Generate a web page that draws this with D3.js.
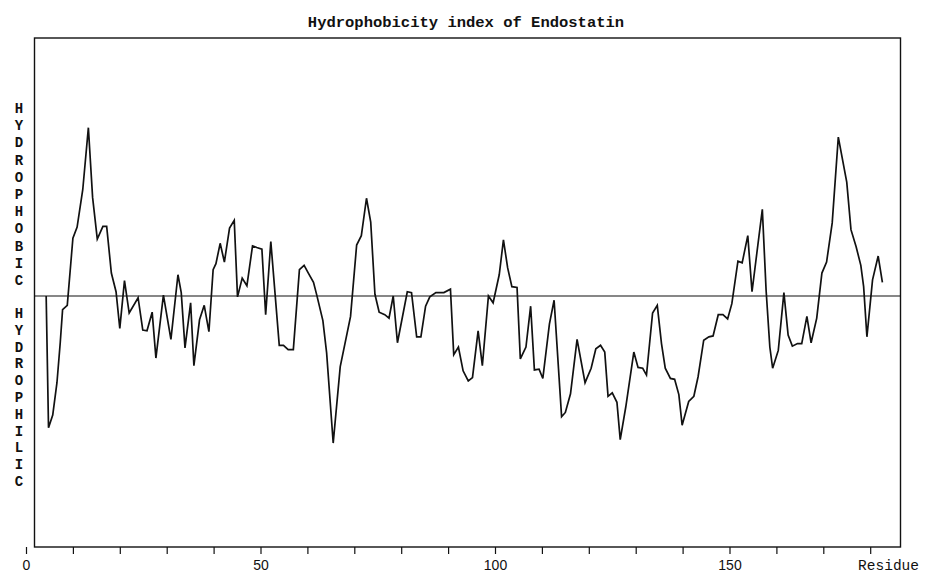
<!DOCTYPE html>
<html>
<head>
<meta charset="utf-8">
<script src="https://cdn.jsdelivr.net/npm/d3@7/dist/d3.min.js"></script>
<style>
  html, body { margin: 0; padding: 0; background: #fff; }
  svg { display: block; }
</style>
</head>
<body>
<div id="chart"></div>
<script>
// ---- data ----
const titleText = "Hydrophobicity index of Endostatin";
const upperLabel = "HYDROPHOBIC";
const lowerLabel = "HYDROPHILIC";
const xAxisLabel = "Residue";
const tickValues = [0,10,20,30,40,50,60,70,80,90,100,110,120,130,140,150,160,170,180];
const tickLabels = [0, 50, 100, 150];

// residue position of each vertex of the profile
const residues = [
  4.3, 4.8, 5.7, 6.6, 7.3, 7.8, 8.8, 10.0, 10.9, 12.1,
  13.3, 14.2, 15.2, 16.4, 17.2, 18.2, 19.2, 20.0, 21.0, 22.0,
  23.9, 24.9, 25.8, 26.9, 27.7, 29.3, 30.9, 32.4, 33.1, 33.9,
  35.1, 35.8, 37.0, 38.0, 39.0, 39.9, 40.5, 41.4, 42.3, 43.4,
  44.4, 45.1, 46.1, 47.1, 48.3, 49.2, 50.3, 51.1, 52.2, 54.0,
  54.9, 55.9, 57.0, 58.3, 59.3, 60.2, 61.3, 62.0, 63.3, 64.1,
  65.5, 67.0, 69.2, 70.5, 71.5, 72.6, 73.5, 74.4, 75.3, 76.5,
  77.4, 78.3, 79.2, 81.3, 82.2, 83.3, 84.2, 85.2, 86.1, 87.4,
  89.1, 90.5, 91.2, 92.2, 93.2, 94.3, 95.2, 96.4, 97.3, 98.6,
  99.6, 100.9, 101.8, 102.7, 103.6, 104.7, 105.4, 106.6, 107.6, 108.4,
  109.4, 110.2, 111.6, 112.6, 114.2, 115.0, 116.1, 117.5, 119.2, 120.5,
  121.5, 122.5, 123.4, 124.1, 125.0, 126.0, 126.7, 127.9, 129.6, 130.5,
  131.5, 132.3, 133.6, 134.6, 135.5, 136.3, 137.4, 138.3, 139.2, 139.9,
  141.3, 142.4, 143.3, 144.5, 145.6, 146.5, 147.6, 148.6, 149.6, 150.5,
  151.8, 152.7, 153.9, 154.8, 157.0, 157.8, 158.6, 159.2, 160.4, 161.6,
  162.5, 163.4, 164.5, 165.4, 166.5, 167.4, 168.6, 169.7, 170.7, 171.9,
  173.2, 175.0, 175.9, 177.0, 178.0, 178.6, 179.3, 180.5, 181.7, 182.6
];

// hydrophobicity value at each vertex
const hydrophobicity = [
  0.00, -1.55, -1.40, -1.02, -0.55, -0.16, -0.11, 0.68, 0.81, 1.25,
  1.98, 1.16, 0.67, 0.82, 0.82, 0.27, 0.05, -0.38, 0.18, -0.20,
  -0.02, -0.40, -0.41, -0.19, -0.73, 0.01, -0.51, 0.25, 0.04, -0.61,
  -0.08, -0.82, -0.28, -0.11, -0.42, 0.31, 0.38, 0.62, 0.40, 0.80,
  0.89, -0.01, 0.21, 0.12, 0.59, 0.57, 0.55, -0.22, 0.64, -0.58,
  -0.58, -0.63, -0.63, 0.31, 0.36, 0.27, 0.16, 0.01, -0.29, -0.67,
  -1.73, -0.83, -0.24, 0.60, 0.71, 1.15, 0.87, 0.02, -0.19, -0.22,
  -0.26, 0.00, -0.55, 0.05, 0.04, -0.48, -0.48, -0.12, -0.01, 0.04,
  0.04, 0.08, -0.69, -0.60, -0.88, -1.00, -0.96, -0.41, -0.82, 0.00,
  -0.08, 0.25, 0.66, 0.33, 0.11, 0.10, -0.74, -0.60, -0.12, -0.87,
  -0.86, -0.97, -0.33, -0.05, -1.42, -1.37, -1.15, -0.51, -1.02, -0.85,
  -0.62, -0.58, -0.66, -1.18, -1.14, -1.25, -1.69, -1.30, -0.66, -0.84,
  -0.85, -0.93, -0.20, -0.11, -0.56, -0.85, -0.97, -0.98, -1.16, -1.52,
  -1.24, -1.18, -0.95, -0.52, -0.48, -0.47, -0.22, -0.22, -0.27, -0.09,
  0.41, 0.39, 0.71, 0.05, 1.02, 0.07, -0.60, -0.85, -0.64, 0.04,
  -0.46, -0.59, -0.56, -0.56, -0.24, -0.55, -0.26, 0.27, 0.40, 0.86,
  1.87, 1.34, 0.78, 0.58, 0.36, 0.11, -0.48, 0.19, 0.47, 0.16
];

// ---- layout ----
const W = 927, H = 574;
const frame = { left: 34.5, right: 900.5, top: 38, bottom: 547 };

const svg = d3.select("#chart").append("svg")
  .attr("width", W).attr("height", H);

const x = d3.scaleLinear().domain([0, 180]).range([26, 26 + 180 * 4.69]);
const y = d3.scaleLinear().domain([-3, 3]).range([551, 41]);

const mono = "'Courier New', 'Liberation Mono', 'DejaVu Sans Mono', monospace";

// title
svg.append("text")
  .attr("x", 466).attr("y", 27)
  .attr("text-anchor", "middle")
  .attr("font-family", mono)
  .attr("font-size", 15.5)
  .attr("font-weight", "bold")
  .attr("fill", "#111")
  .text(titleText);

// frame
svg.append("rect")
  .attr("x", frame.left).attr("y", frame.top)
  .attr("width", frame.right - frame.left)
  .attr("height", frame.bottom - frame.top)
  .attr("fill", "none").attr("stroke", "#111").attr("stroke-width", 1.4);

// zero line
svg.append("line")
  .attr("x1", frame.left).attr("x2", frame.right)
  .attr("y1", y(0)).attr("y2", y(0))
  .attr("stroke", "#111").attr("stroke-width", 1.2);

// x axis
const xAxis = d3.axisBottom(x)
  .tickValues(tickValues)
  .tickSize(7)
  .tickPadding(6)
  .tickFormat(d => tickLabels.includes(d) ? d : "");
const gx = svg.append("g")
  .attr("transform", `translate(0,${frame.bottom})`)
  .call(xAxis);
gx.select(".domain").remove();
gx.selectAll(".tick line").attr("stroke", "#111").attr("stroke-width", 1.2);
gx.selectAll(".tick text")
  .attr("fill", "#111")
  .attr("font-family", "'Liberation Sans', Arial, sans-serif")
  .attr("font-size", 14);

svg.append("text")
  .attr("x", 919).attr("y", 570)
  .attr("text-anchor", "end")
  .attr("font-family", mono)
  .attr("font-size", 14.5)
  .attr("fill", "#111")
  .text(xAxisLabel);

// vertical stacked labels
function stacked(label, y0, step) {
  const t = svg.append("text")
    .attr("font-family", mono)
    .attr("font-size", 14)
    .attr("font-weight", "bold")
    .attr("text-anchor", "middle")
    .attr("fill", "#111");
  label.split("").forEach((ch, i) => {
    t.append("tspan").attr("x", 19).attr("y", y0 + i * step).text(ch);
  });
}
stacked(upperLabel, 113, 17.2);
stacked(lowerLabel, 318, 16.8);

// profile line
const pts = residues.map((r, i) => [r, hydrophobicity[i]]);
const line = d3.line().x(d => x(d[0])).y(d => y(d[1]));
svg.append("path")
  .datum(pts)
  .attr("d", line)
  .attr("fill", "none")
  .attr("stroke", "#111")
  .attr("stroke-width", 1.7)
  .attr("stroke-linejoin", "miter");
</script>
</body>
</html>
